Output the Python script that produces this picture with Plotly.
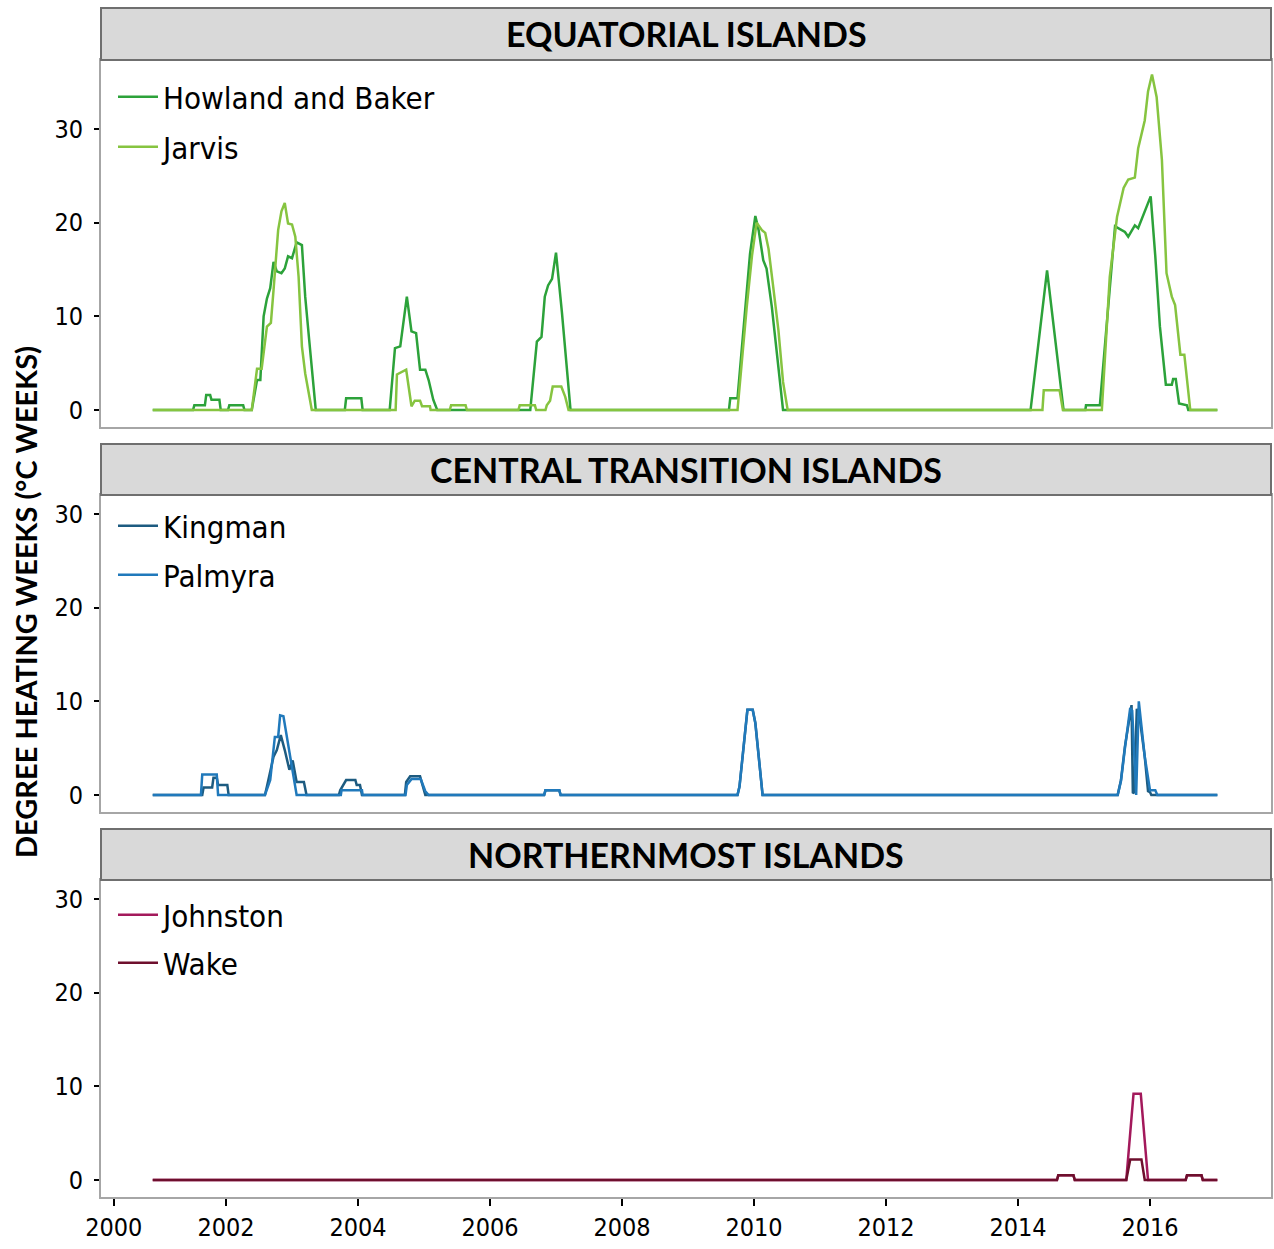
import plotly.graph_objects as go

# ---------------- DATA (decimal years, degree heating weeks) ----------------
howland_x = [2000.89, 2001.50, 2001.52, 2001.68, 2001.70, 2001.76, 2001.78, 2001.90, 2001.92,
             2002.03, 2002.05, 2002.26, 2002.28, 2002.39, 2002.47, 2002.52, 2002.57, 2002.62,
             2002.67, 2002.72, 2002.77, 2002.84, 2002.89, 2002.94, 2003.00, 2003.07, 2003.15,
             2003.20, 2003.26, 2003.36, 2003.80, 2003.82, 2004.05, 2004.07, 2004.48, 2004.56,
             2004.64, 2004.74, 2004.81, 2004.88, 2004.94, 2005.02, 2005.07, 2005.14, 2005.20,
             2006.61, 2006.71, 2006.78, 2006.83, 2006.88, 2006.94, 2007.00, 2007.09, 2007.22,
             2009.62, 2009.64, 2009.75, 2009.86, 2009.94, 2010.02, 2010.07, 2010.14, 2010.19,
             2010.27, 2010.44, 2014.19, 2014.44, 2014.69, 2015.02, 2015.03, 2015.24, 2015.47,
             2015.62, 2015.67, 2015.77, 2015.82, 2015.90, 2016.01, 2016.08, 2016.15, 2016.24,
             2016.33, 2016.35, 2016.39, 2016.44, 2016.56, 2016.58, 2017.02]
howland_y = [0, 0, 0.5, 0.5, 1.6, 1.6, 1.1, 1.1, 0,
             0, 0.5, 0.5, 0, 0, 3.2, 3.2, 10.0, 11.9,
             13.0, 15.8, 14.8, 14.6, 15.1, 16.4, 16.2, 17.9, 17.6,
             12.1, 7.5, 0, 0, 1.25, 1.25, 0, 0, 6.6,
             6.8, 12.1, 8.4, 8.2, 4.3, 4.3, 3.2, 1.1, 0,
             0, 7.3, 7.8, 12.1, 13.3, 14.0, 16.8, 10.4, 0,
             0, 1.25, 1.25, 10.0, 16.7, 20.7, 19.2, 16.0, 15.1,
             11.0, 0, 0, 14.9, 0, 0, 0.5, 0.5, 19.6,
             19.0, 18.5, 19.7, 19.4, 20.8, 22.8, 16.4, 8.9, 2.7,
             2.7, 3.3, 3.3, 0.7, 0.5, 0, 0]

jarvis_x = [2000.89, 2002.39, 2002.47, 2002.54, 2002.62, 2002.68, 2002.72, 2002.79, 2002.84,
            2002.89, 2002.94, 2003.00, 2003.05, 2003.10, 2003.15, 2003.20, 2003.30,
            2004.57, 2004.59, 2004.73, 2004.81, 2004.86, 2004.94, 2004.97, 2005.09, 2005.10,
            2005.39, 2005.41, 2005.63, 2005.65, 2006.43, 2006.45, 2006.68, 2006.70,
            2006.84, 2006.86, 2006.91, 2006.95, 2007.08, 2007.14, 2007.19,
            2009.75, 2009.89, 2009.97, 2010.04, 2010.12, 2010.17, 2010.22, 2010.29, 2010.37,
            2010.44, 2010.51, 2014.37, 2014.39, 2014.63, 2014.68,
            2015.27, 2015.39, 2015.50, 2015.60, 2015.67, 2015.77, 2015.82, 2015.92, 2015.97,
            2016.03, 2016.10, 2016.18, 2016.25, 2016.33, 2016.38, 2016.46, 2016.52, 2016.61, 2017.02]
jarvis_y = [0, 0, 4.4, 4.4, 8.9, 9.3, 12.8, 19.2, 21.2,
            22.1, 19.9, 19.8, 18.5, 14.2, 6.8, 3.9, 0,
            0, 3.8, 4.3, 0.4, 1.0, 1.0, 0.4, 0.4, 0,
            0, 0.5, 0.5, 0, 0, 0.5, 0.5, 0,
            0, 0.5, 1.0, 2.5, 2.5, 1.4, 0,
            0, 11.0, 16.5, 20.0, 19.2, 18.9, 17.2, 13.2, 8.5,
            3.0, 0, 0, 2.1, 2.1, 0,
            0, 14.2, 20.6, 23.7, 24.6, 24.8, 27.9, 30.9, 34.0,
            35.8, 33.4, 26.7, 14.6, 12.1, 11.2, 5.9, 5.9, 0, 0]

kingman_x = [2000.89, 2001.64, 2001.66, 2001.79, 2001.81, 2001.86, 2001.88, 2002.02, 2002.04,
             2002.59, 2002.62, 2002.72, 2002.77, 2002.83, 2002.89, 2002.96, 2003.01, 2003.07,
             2003.18, 2003.22, 2003.71, 2003.73, 2003.82, 2003.96, 2003.98, 2004.03, 2004.06,
             2004.71, 2004.73, 2004.79, 2004.94, 2005.02, 2006.82, 2006.84, 2007.05, 2007.07,
             2009.75, 2009.78, 2009.90, 2009.98, 2010.02, 2010.13,
             2015.51, 2015.56, 2015.62, 2015.72, 2015.74, 2015.76, 2015.80, 2015.84, 2015.92,
             2015.97, 2016.00, 2016.02, 2017.02]
kingman_y = [0, 0, 0.8, 0.8, 1.85, 1.85, 1.07, 1.07, 0,
             0, 0.9, 4.1, 4.8, 6.4, 4.8, 2.7, 3.7, 1.4,
             1.4, 0, 0, 0.5, 1.6, 1.6, 1.07, 1.07, 0,
             0, 1.4, 2.0, 2.0, 0, 0, 0.5, 0.5, 0,
             0, 0.9, 9.1, 9.1, 7.7, 0,
             0, 1.6, 5.2, 9.6, 0.2, 0.3, 9.2, 8.4, 4.1,
             0.4, 0.3, 0, 0]

palmyra_x = [2000.89, 2001.62, 2001.64, 2001.86, 2001.88,
             2002.59, 2002.67, 2002.74, 2002.79, 2002.82, 2002.87, 2002.92, 2003.00, 2003.07,
             2003.74, 2003.75, 2004.06, 2004.07, 2004.72, 2004.74, 2004.81, 2004.95, 2005.02,
             2005.07, 2006.82, 2006.84, 2007.05, 2007.07,
             2009.75, 2009.78, 2009.90, 2009.98, 2010.02, 2010.13,
             2015.51, 2015.56, 2015.62, 2015.70, 2015.73, 2015.77, 2015.79, 2015.83, 2015.92,
             2016.00, 2016.08, 2016.11, 2017.02]
palmyra_y = [0, 0, 2.2, 2.2, 0,
             0, 1.6, 6.2, 6.2, 8.5, 8.4, 6.2, 3.0, 0,
             0, 0.5, 0.5, 0, 0, 1.07, 1.7, 1.7, 0.4,
             0, 0, 0.5, 0.5, 0,
             0, 0.9, 9.1, 9.1, 7.7, 0,
             0, 1.5, 5.0, 9.3, 9.0, 1.6, 0.0, 10.0, 4.1,
             0.5, 0.5, 0, 0]

johnston_x = [2000.89, 2014.59, 2014.61, 2014.84, 2014.86, 2015.64, 2015.75, 2015.86, 2015.97,
              2016.54, 2016.56, 2016.78, 2016.80, 2017.02]
johnston_y = [0, 0, 0.5, 0.5, 0, 0, 9.2, 9.2, 0,
              0, 0.5, 0.5, 0, 0]

wake_x = [2000.89, 2014.59, 2014.61, 2014.84, 2014.86, 2015.64, 2015.70, 2015.87, 2015.92,
          2016.54, 2016.56, 2016.78, 2016.80, 2017.02]
wake_y = [0, 0, 0.5, 0.5, 0, 0, 2.2, 2.2, 0,
          0, 0.5, 0.5, 0, 0]

panel_titles = ["EQUATORIAL ISLANDS", "CENTRAL TRANSITION ISLANDS", "NORTHERNMOST ISLANDS"]
year_ticks = [2000.3, 2002, 2004, 2006, 2008, 2010, 2012, 2014, 2016]
year_labels = ["2000", "2002", "2004", "2006", "2008", "2010", "2012", "2014", "2016"]
dhw_ticks = [0, 10, 20, 30]

# ---------------- FIGURE ----------------
W, H = 1274, 1249
def fx(p):
    return p / W
def fy(p):
    return 1 - p / H

narrow = "DejaVu Sans Condensed, Liberation Sans Narrow, Liberation Sans, Arial, sans-serif"
tick_font = dict(family=narrow, size=25, color="black")
leg_font = dict(family=narrow, size=31, color="black")
bold_font = "Lato, Open Sans, sans-serif"

fig = go.Figure()
# name, x, y, colour, xaxis, yaxis, legend id, legend centre (px)
series = [
    ("Howland and Baker", howland_x, howland_y, "#2ca23a", "x", "y", "legend", 97),
    ("Jarvis", jarvis_x, jarvis_y, "#86c440", "x", "y", "legend2", 147),
    ("Kingman", kingman_x, kingman_y, "#1d5b80", "x2", "y2", "legend3", 526),
    ("Palmyra", palmyra_x, palmyra_y, "#2079bb", "x2", "y2", "legend4", 575),
    ("Johnston", johnston_x, johnston_y, "#a3195b", "x3", "y3", "legend5", 915),
    ("Wake", wake_x, wake_y, "#6e0f2d", "x3", "y3", "legend6", 963),
]
layout = {}
for name, xs, ys, col, xa, ya, lg, ly in series:
    fig.add_trace(go.Scatter(x=xs, y=ys, mode="lines", name=name,
                             line=dict(color=col, width=2.5),
                             xaxis=xa, yaxis=ya, legend=lg))
    layout[lg] = dict(x=fx(113), y=fy(ly), xanchor="left", yanchor="middle",
                      bgcolor="rgba(0,0,0,0)", font=leg_font, borderwidth=0,
                      itemwidth=40)

panels = [(60, 427, [-1.81, 37.35]), (495, 812, [-1.81, 32.02]), (880, 1197, [-1.81, 32.02])]
strips = [(8, 60), (444, 495), (829, 880)]
axis_line = "#a6a6a6"
for i, (top, bot, yr) in enumerate(panels):
    sfx = "" if i == 0 else str(i + 1)
    last = (i == 2)
    layout["xaxis" + sfx] = dict(
        domain=[fx(101), fx(1271)], range=[2000.106, 2017.833], anchor="y" + sfx,
        automargin=False,
        showgrid=False, zeroline=False, showline=True, mirror=True,
        linecolor=axis_line, linewidth=2,
        tickvals=year_ticks, ticktext=year_labels,
        showticklabels=last, ticks="outside" if last else "",
        ticklen=7, tickwidth=2, tickcolor="black", tickfont=tick_font)
    layout["yaxis" + sfx] = dict(
        domain=[fy(bot), fy(top)], range=yr, anchor="x" + sfx,
        automargin=False,
        showgrid=False, zeroline=False, showline=True, mirror=True,
        linecolor=axis_line, linewidth=2,
        tickvals=dhw_ticks, ticks="outside", ticklen=5, tickwidth=2,
        tickcolor="black", tickfont=tick_font, ticklabelstandoff=6)

shapes = []
annotations = []
for (s0, s1), title in zip(strips, panel_titles):
    shapes.append(dict(type="rect", xref="paper", yref="paper",
                       x0=fx(101), x1=fx(1271), y0=fy(s1), y1=fy(s0),
                       fillcolor="#d9d9d9", line=dict(color="#6f6f6f", width=2)))
    annotations.append(dict(text="<b>%s</b>" % title, xref="paper", yref="paper",
                            x=fx(686), y=fy((s0 + s1) / 2), xanchor="center", yanchor="middle",
                            showarrow=False, font=dict(family=bold_font, size=34, color="black")))

annotations.append(dict(text="<b>DEGREE HEATING WEEKS (°C WEEKS)</b>", xref="paper", yref="paper",
                        x=fx(25), y=fy(602), xanchor="center", yanchor="middle", textangle=-90,
                        showarrow=False, font=dict(family=bold_font, size=29, color="black")))

fig.update_layout(width=W, height=H, margin=dict(l=0, r=0, t=0, b=0),
                  paper_bgcolor="white", plot_bgcolor="white",
                  shapes=shapes, annotations=annotations, showlegend=True, **layout)

fig.write_html("out.html", config={"displayModeBar": False},
               post_script="document.body.style.margin='0';document.body.style.overflow='hidden';")
